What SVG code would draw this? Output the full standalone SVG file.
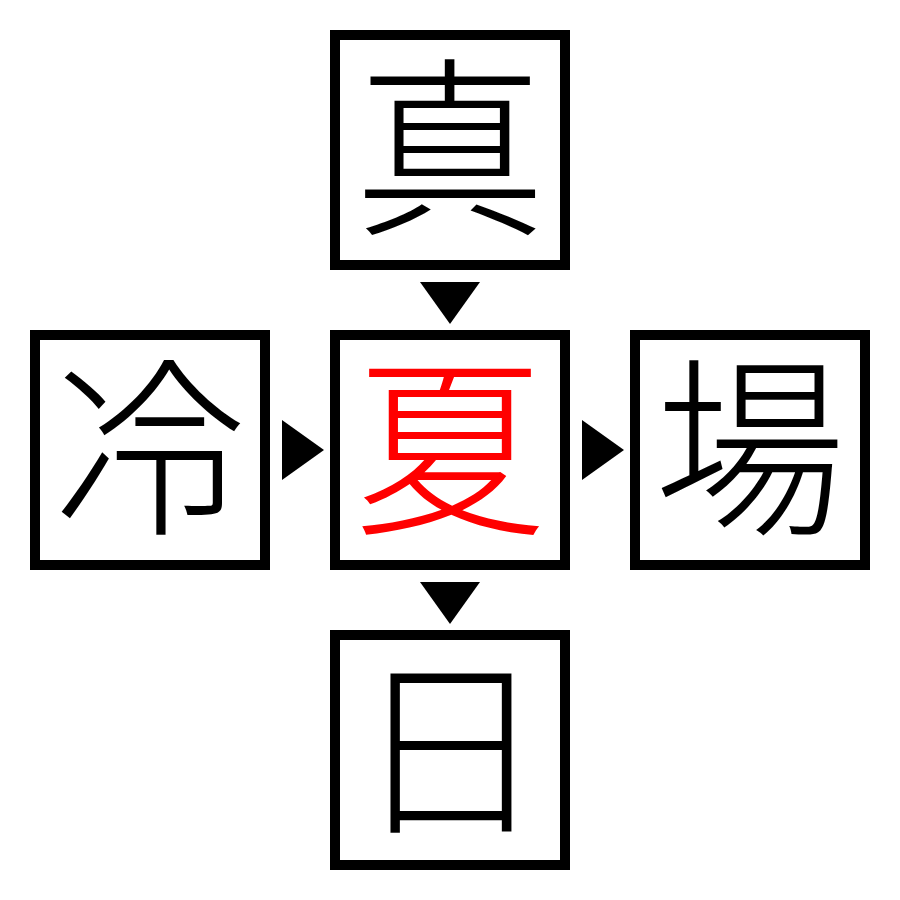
<svg xmlns="http://www.w3.org/2000/svg" width="900" height="900" viewBox="0 0 900 900">
<style>
.box{fill:#fff;stroke:#000;stroke-width:10}
.ch{font-family:"Liberation Serif","Noto Sans CJK JP",serif;font-size:192px;font-weight:300;text-anchor:middle;dominant-baseline:central;fill:#000}
.center{fill:#ff0000}
.arr{fill:#000}
</style>
<rect width="900" height="900" fill="#fff"/>
<g id="connectors">
<polygon class="arr" points="420,282 480,282 450,324"/>
<polygon class="arr" points="420,582 480,582 450,624"/>
<polygon class="arr" points="282,420 282,480 324,450"/>
<polygon class="arr" points="582,420 582,480 624,450"/>
</g>
<g id="node-top"><rect class="box" x="335" y="35" width="230" height="230"/><text class="ch" x="450" y="155">真</text></g>
<g id="node-left"><rect class="box" x="35" y="335" width="230" height="230"/><text class="ch" x="150" y="455">冷</text></g>
<g id="node-center"><rect class="box" x="335" y="335" width="230" height="230"/><text class="ch center" x="450" y="455">夏</text></g>
<g id="node-right"><rect class="box" x="635" y="335" width="230" height="230"/><text class="ch" x="750" y="455">場</text></g>
<g id="node-bottom"><rect class="box" x="335" y="635" width="230" height="230"/><text class="ch" x="450" y="755">日</text></g>
</svg>
